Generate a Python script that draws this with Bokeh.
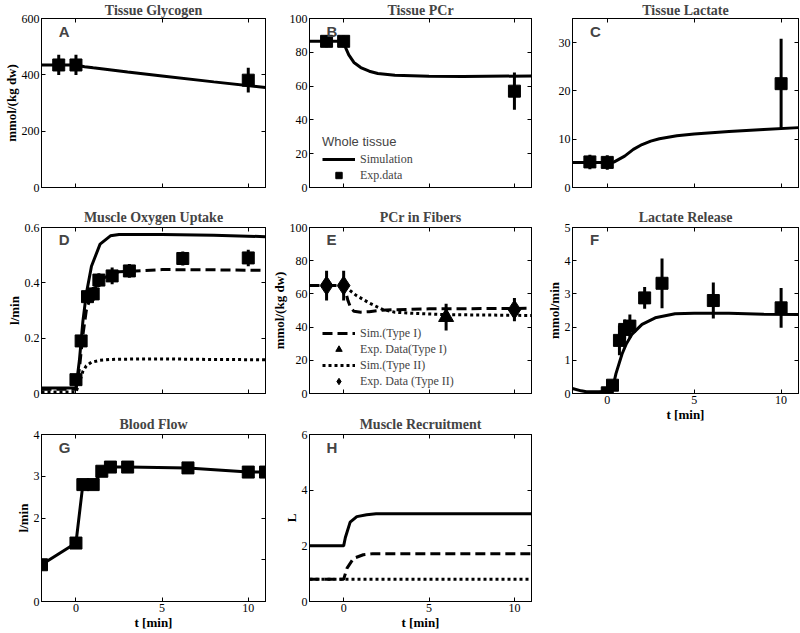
from bokeh.plotting import figure
from bokeh.layouts import row, column
from bokeh.models import LinearAxis, FixedTicker, Range1d, Legend, LegendItem, Label
from bokeh.embed import file_html
from bokeh.resources import INLINE

SERIF = "Liberation Serif"
SANS = "Liberation Sans"

# ---------------- data ----------------
x_ticks = [0, 5, 10]

# A  Tissue Glycogen
glyc_sim_t = [-2, 0, 0.5, 1, 3, 5, 8, 11]
glyc_sim = [435, 435, 429, 425, 410, 396, 375, 355]
glyc_exp_t = [-1, 0, 10]
glyc_exp = [435, 435, 381]
glyc_err = [36, 36, 44]

# B  Tissue PCr
pcr_sim_t = [-2, 0, 0.1, 0.3, 0.6, 1, 1.5, 2, 3, 5, 7, 11]
pcr_sim = [86.5, 86.5, 83, 78.5, 74, 71, 68.8, 67.5, 66.4, 65.8, 65.7, 66]
pcr_exp_t = [-1, 0, 10]
pcr_exp = [86.5, 86.5, 57]
pcr_err = [3.5, 3.5, 11]

# C  Tissue Lactate
lac_sim_t = [-2, 0, 0.4, 1, 1.5, 2, 2.5, 3, 4, 5, 7, 9, 11]
lac_sim = [5.2, 5.2, 5.3, 6.5, 7.9, 8.9, 9.6, 10.1, 10.7, 11.1, 11.6, 12.0, 12.4]
lac_exp_t = [-1, 0, 10]
lac_exp = [5.3, 5.2, 21.5]
lac_err = [1.5, 1.5, 9.3]

# D  Muscle Oxygen Uptake
vo2_t = [-2, 0, 0.2, 0.4, 0.6, 0.9, 1.4, 2, 2.5, 5, 8, 11]
vo2_total = [0.02, 0.02, 0.12, 0.26, 0.36, 0.46, 0.54, 0.57, 0.575, 0.575, 0.572, 0.567]
vo2_type1 = [0.015, 0.015, 0.09, 0.21, 0.30, 0.36, 0.41, 0.43, 0.44, 0.448, 0.447, 0.445]
vo2_type2 = [0.005, 0.005, 0.04, 0.08, 0.10, 0.113, 0.12, 0.123, 0.124, 0.125, 0.123, 0.122]
vo2_exp_t = [0, 0.3, 0.67, 1.0, 1.33, 2.1, 3.1, 6.2, 10]
vo2_exp = [0.05, 0.19, 0.35, 0.36, 0.41, 0.425, 0.443, 0.488, 0.49]
vo2_err = [0.01, 0.02, 0.02, 0.025, 0.025, 0.03, 0.025, 0.025, 0.03]

# E  PCr in Fibers
fib1_sim_t = [-2, 0, 0.1, 0.25, 0.4, 0.6, 1, 1.5, 2, 3, 5, 11]
fib1_sim = [65, 65, 62, 56, 52, 49.5, 49, 49.3, 50, 50.5, 51, 51.3]
fib2_sim_t = [-2, 0, 0.25, 0.75, 1.5, 2.3, 3, 4, 6, 11]
fib2_sim = [65, 65, 63, 59, 54.5, 50.5, 49, 48.3, 47.5, 47]
fib1_exp_t = [6]
fib1_exp = [46]
fib1_err = [8]
fib2_exp_t = [-1, 0, 10]
fib2_exp = [65, 65, 50.5]
fib2_err = [9, 9, 7]

# F  Lactate Release
lrel_sim_t = [-2, -1.5, -1.2, -0.5, 0.2, 0.35, 0.5, 0.85, 1.1, 1.43, 2.0, 2.76, 3.9, 5, 7, 9, 11]
lrel_sim = [0.15, 0.08, 0.05, 0.05, 0.07, 0.25, 0.6, 1.19, 1.5, 1.79, 2.08, 2.28, 2.4, 2.42, 2.42, 2.39, 2.38]
lrel_exp_t = [0, 0.3, 0.7, 1.0, 1.3, 2.15, 3.15, 6.1, 10]
lrel_exp = [0.02, 0.25, 1.6, 1.93, 2.03, 2.88, 3.32, 2.8, 2.58]
lrel_err = [0.1, 0.15, 0.45, 0.3, 0.35, 0.33, 0.75, 0.54, 0.6]

# G  Blood Flow
flow_t = [-2, 0, 0.4, 1.0, 1.5, 2.0, 3.0, 6.5, 10, 11]
flow = [0.88, 1.4, 2.8, 2.8, 3.12, 3.22, 3.22, 3.2, 3.1, 3.1]

# H  Muscle Recruitment
rec_total_t = [-2, 0, 0.1, 0.38, 0.77, 1.35, 1.9, 11]
rec_total = [2.0, 2.0, 2.3, 2.85, 3.05, 3.12, 3.15, 3.15]
rec_type1_t = [-2, 0, 0.2, 0.58, 1.15, 1.7, 11]
rec_type1 = [0.8, 0.8, 1.2, 1.55, 1.68, 1.72, 1.72]
rec_type2_t = [-2, 11]
rec_type2 = [0.8, 0.8]

LW = 3
DASH = "10 5"
DOT = "3 3"


def style_axis(ax, ticks, show_labels, overrides=None):
    ax.ticker = FixedTicker(ticks=ticks)
    ax.major_tick_in = 4
    ax.major_tick_out = 0
    ax.minor_tick_line_color = None
    ax.axis_line_color = "black"
    ax.major_tick_line_color = "black"
    ax.major_label_text_font = SERIF
    if show_labels:
        ax.major_label_text_color = "black"
        ax.major_label_text_font_size = "12px"
        ax.major_label_standoff = 2
    else:
        ax.major_label_text_color = None
        ax.major_label_text_font_size = "1px"
        ax.major_label_standoff = 0
    ax.axis_label_text_font = SERIF
    ax.axis_label_text_font_style = "bold"
    ax.axis_label_text_font_size = "13px"
    ax.axis_label_text_color = "black"
    ax.axis_label_standoff = 0
    if overrides:
        ax.major_label_overrides = overrides


def panel(title, letter, ymax, yticks, w, h, bl, br, bt, bb, tstand,
          xlab=False, ylabel=None, yover=None, left_ticks=None):
    p = figure(width=w, height=h, x_range=Range1d(-2, 11), y_range=Range1d(0, ymax),
               output_backend="svg", toolbar_location=None,
               min_border_left=bl, min_border_right=br,
               min_border_top=bt, min_border_bottom=bb)
    p.title.text = title
    p.title.text_font = SERIF
    p.title.text_font_style = "bold"
    p.title.text_font_size = "14px"
    p.title.align = "center"
    p.title.standoff = tstand
    p.grid.visible = False
    p.outline_line_color = "black"
    p.background_fill_color = "white"
    p.border_fill_color = "white"
    style_axis(p.xaxis[0], x_ticks, xlab)
    style_axis(p.yaxis[0], left_ticks or yticks, True, yover)
    if xlab:
        p.xaxis[0].axis_label = "t [min]"
    if ylabel:
        p.yaxis[0].axis_label = ylabel
    top = LinearAxis()
    style_axis(top, x_ticks, False)
    p.add_layout(top, "above")
    right = LinearAxis()
    style_axis(right, yticks, False)
    p.add_layout(right, "right")
    p.add_layout(Label(x=-1.0, y=ymax * 0.925, text=letter, text_font=SANS,
                       text_font_style="bold", text_font_size="15px",
                       text_baseline="middle", text_align="left"))
    return p


def errbars(p, t, y, e):
    p.segment(x0=t, x1=t, y0=[a - b for a, b in zip(y, e)],
              y1=[a + b for a, b in zip(y, e)], line_color="black", line_width=LW)


def squares(p, t, y):
    return p.scatter(t, y, marker="square", size=12, color="black")


W1, W2, W3 = 268, 267, 265
H1, H2, H3 = 204, 206, 223
BL1, BL2, BL3 = 38, 37, 37
BR1, BR2, BR3 = 3, 4, 2

# A
pA = panel("Tissue Glycogen", "A", 600, [0, 200, 400, 600], W1, H1, BL1, BR1, 18, 17, 1,
           ylabel="mmol/(kg dw)")
pA.line(glyc_sim_t, glyc_sim, line_color="black", line_width=LW)
errbars(pA, glyc_exp_t, glyc_exp, glyc_err)
squares(pA, glyc_exp_t, glyc_exp)

# B
pB = panel("Tissue PCr", "B", 100, [0, 20, 40, 60, 80, 100], W2, H1, BL2, BR2, 18, 17, 1)
rB_line = pB.line(pcr_sim_t, pcr_sim, line_color="black", line_width=LW)
errbars(pB, pcr_exp_t, pcr_exp, pcr_err)
rB_sq = squares(pB, pcr_exp_t, pcr_exp)

legB = Legend(items=[LegendItem(label="Simulation", renderers=[rB_line]),
                     LegendItem(label="Exp.data", renderers=[rB_sq])],
              location=(13, 4), title="Whole tissue")

# C
pC = panel("Tissue Lactate", "C", 35, [0, 10, 20, 30], W3, H1, BL3, BR3, 18, 17, 1)
pC.line(lac_sim_t, lac_sim, line_color="black", line_width=LW)
errbars(pC, lac_exp_t, lac_exp, lac_err)
squares(pC, lac_exp_t, lac_exp)

# D
pD = panel("Muscle Oxygen Uptake", "D", 0.6, [0, 0.2, 0.4, 0.6], W1, H2, BL1, BR1, 23, 17, 6,
           ylabel="l/min", yover={0: "0"})
pD.line(vo2_t, vo2_total, line_color="black", line_width=LW)
pD.line(vo2_t, vo2_type1, line_color="black", line_width=LW, line_dash=DASH)
pD.line(vo2_t, vo2_type2, line_color="black", line_width=LW, line_dash=DOT)
errbars(pD, vo2_exp_t, vo2_exp, vo2_err)
squares(pD, vo2_exp_t, vo2_exp)

# E
pE = panel("PCr in Fibers", "E", 100, [0, 20, 40, 60, 80, 100], W2, H2, BL2, BR2, 23, 17, 6,
           ylabel="mmol/(kg dw)")
rE1 = pE.line(fib1_sim_t, fib1_sim, line_color="black", line_width=LW, line_dash=DASH)
rE2 = pE.line(fib2_sim_t, fib2_sim, line_color="black", line_width=LW, line_dash=DOT)
errbars(pE, fib1_exp_t, fib1_exp, fib1_err)
errbars(pE, fib2_exp_t, fib2_exp, fib2_err)
rE_tri = pE.scatter(fib1_exp_t, fib1_exp, marker="triangle", size=15, color="black")
rE_dia = pE.scatter(fib2_exp_t, fib2_exp, marker="diamond", size=19, color="black")

legE = Legend(items=[LegendItem(label="Sim.(Type I)", renderers=[rE1]),
                     LegendItem(label="Exp. Data(Type I)", renderers=[rE_tri]),
                     LegendItem(label="Sim.(Type II)", renderers=[rE2]),
                     LegendItem(label="Exp. Data (Type II)", renderers=[rE_dia])],
              location=(13, 4))

# F
pF = panel("Lactate Release", "F", 5, [0, 1, 2, 3, 4, 5], W3, 220, BL3, BR3, 23, 31, 6,
           xlab=True, ylabel="mmol/min")
pF.line(lrel_sim_t, lrel_sim, line_color="black", line_width=LW)
errbars(pF, lrel_exp_t, lrel_exp, lrel_err)
squares(pF, lrel_exp_t, lrel_exp)

# G
pG = panel("Blood Flow", "G", 4, [0, 1, 2, 3, 4], W1, H3, BL1, BR1, 24, 32, 6,
           xlab=True, ylabel="l/min", left_ticks=[0, 2, 3, 4])
pG.line(flow_t, flow, line_color="black", line_width=LW)
squares(pG, flow_t, flow)

# H
pH = panel("Muscle Recruitment", "H", 6, [0, 2, 4, 6], W2, H3, BL2, BR2, 24, 32, 6,
           xlab=True, ylabel="L")
pH.line(rec_total_t, rec_total, line_color="black", line_width=LW)
pH.line(rec_type1_t, rec_type1, line_color="black", line_width=LW, line_dash=DASH)
pH.line(rec_type2_t, rec_type2, line_color="black", line_width=LW, line_dash=DOT)

for p, leg in ((pB, legB), (pE, legE)):
    leg.border_line_color = None
    leg.background_fill_alpha = 0
    leg.padding = 0
    leg.margin = 0
    leg.spacing = 0
    leg.glyph_width = 33
    leg.glyph_height = 16
    leg.label_height = 16
    leg.label_standoff = 5
    leg.label_text_font = SERIF
    leg.label_text_font_size = "12px"
    leg.title_text_font = SANS
    leg.title_text_font_size = "13px"
    leg.title_text_font_style = "normal"
    leg.title_standoff = 2
    p.add_layout(leg)

layout = row(column(pA, pD, pG), column(pB, pE, pH), column(pC, pF))

open("out.html", "w").write(file_html(layout, INLINE))
